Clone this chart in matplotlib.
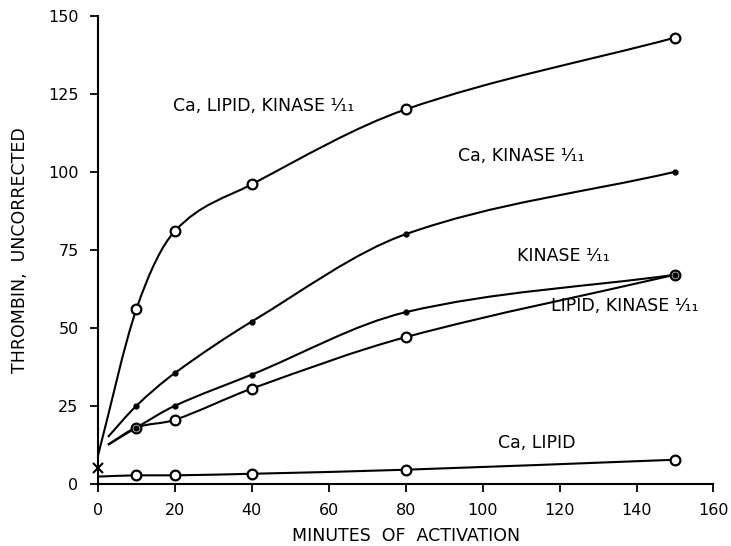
import numpy as np
import matplotlib.pyplot as plt
from matplotlib.path import Path
from matplotlib.patches import PathPatch

# sampling times (minutes) and thrombin values
minutes = [10, 20, 40, 80, 150]
ca_lipid_kinase = [56, 81, 96, 120, 143]
ca_kinase = [25, 35.5, 52, 80, 100]
kinase = [18, 25, 35, 55, 67]
lipid_kinase = [18, 20.5, 30.5, 47, 67]
ca_lipid = [2.7, 2.7, 3.2, 4.5, 7.7]

# where the hand-drawn curves begin near time zero
start_minutes = [0, 2.6, 2.6, 2.6, 0]
start_values = [9, 15, 12.5, 12.5, 2.3]
blank_x, blank_y = 0, 5  # control at zero time

series_names = ["Ca, LIPID, KINASE ¹⁄₁₁", "Ca, KINASE ¹⁄₁₁", "KINASE ¹⁄₁₁",
                "LIPID, KINASE ¹⁄₁₁", "Ca, LIPID"]

x_ticks = [0, 20, 40, 60, 80, 100, 120, 140, 160]
y_ticks = [0, 25, 50, 75, 100, 125, 150]

plt.rcParams['font.family'] = ['DejaVu Sans']


def smooth_path(xs, ys):
    # cubic bezier pieces through the points (hermite tangents), drawn by matplotlib
    xs = np.asarray(xs, float)
    ys = np.asarray(ys, float)
    n = len(xs)
    slopes = np.zeros(n)
    slopes[0] = (ys[1] - ys[0]) / (xs[1] - xs[0])
    slopes[-1] = (ys[-1] - ys[-2]) / (xs[-1] - xs[-2])
    for i in range(1, n - 1):
        slopes[i] = (ys[i + 1] - ys[i - 1]) / (xs[i + 1] - xs[i - 1])
    verts = [(xs[0], ys[0])]
    codes = [Path.MOVETO]
    for i in range(n - 1):
        h = xs[i + 1] - xs[i]
        verts += [(xs[i] + h / 3, ys[i] + slopes[i] * h / 3),
                  (xs[i + 1] - h / 3, ys[i + 1] - slopes[i + 1] * h / 3),
                  (xs[i + 1], ys[i + 1])]
        codes += [Path.CURVE4] * 3
    return Path(verts, codes)


fig = plt.figure(figsize=(7.31, 5.46), dpi=100)
ax = fig.add_axes([0.134, 0.114, 0.842, 0.857])

all_series = [ca_lipid_kinase, ca_kinase, kinase, lipid_kinase, ca_lipid]
markers = ["o", ".", ".", "o", "o"]
for i, vals in enumerate(all_series):
    xs = [start_minutes[i]] + minutes
    ys = [start_values[i]] + vals
    ax.add_patch(PathPatch(smooth_path(xs, ys), fill=False, edgecolor="black",
                           lw=1.5, zorder=2))
    if markers[i] == "o":
        ax.plot(minutes, vals, ls="none", marker="o", ms=7, mfc="white",
                mec="black", mew=1.6, zorder=3, clip_on=False)
    else:
        ax.plot(minutes, vals, ls="none", marker="o", ms=3.5, mfc="black",
                mec="black", zorder=4, clip_on=False)

ax.plot([blank_x], [blank_y], ls="none", marker="x", ms=7, mew=1.5,
        color="black", clip_on=False, zorder=5)

# curve labels
label_pos = [(43, 121), (110, 105), (121, 73), (137, 57), (114, 13)]
for name, (lx, ly) in zip(series_names, label_pos):
    ax.text(lx, ly, name, ha="center", va="center", fontsize=12.5)

ax.set_xlim(0, 160)
ax.set_ylim(0, 150)
ax.set_xticks(x_ticks)
ax.set_yticks(y_ticks)
ax.tick_params(direction="out", length=6, width=1.3, labelsize=11.5, pad=8)
for s in ["top", "right"]:
    ax.spines[s].set_visible(False)
for s in ["left", "bottom"]:
    ax.spines[s].set_linewidth(1.5)

ax.set_xlabel("MINUTES  OF  ACTIVATION", fontsize=12.5, labelpad=6)
ax.set_ylabel("THROMBIN,  UNCORRECTED", fontsize=12.5, labelpad=14)

fig.savefig("out.png", dpi=100)
